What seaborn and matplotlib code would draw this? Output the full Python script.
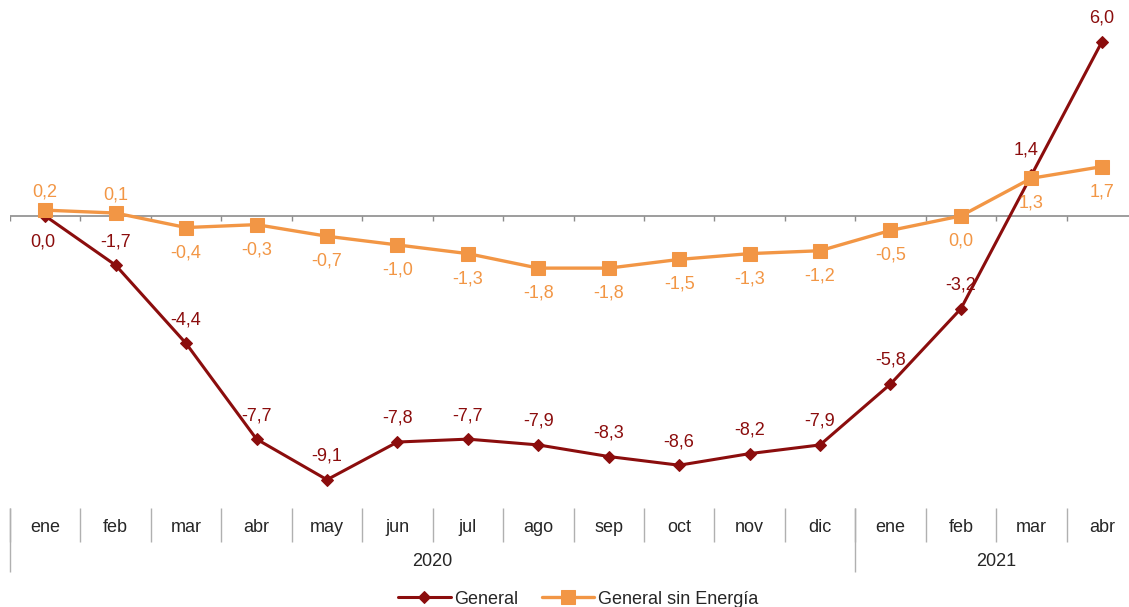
import numpy as np
import pandas as pd
import matplotlib
matplotlib.use('Agg')
import matplotlib.pyplot as plt
import matplotlib.transforms as mtransforms
import seaborn as sns; sns.set_style('white')

plt.rcParams['font.family'] = ['Liberation Sans', 'DejaVu Sans']

# Data
months = ['ene', 'feb', 'mar', 'abr', 'may', 'jun', 'jul', 'ago', 'sep', 'oct', 'nov', 'dic',
          'ene', 'feb', 'mar', 'abr']
years = ['2020', '2021']
year_span = [12, 4]
general = [0.0, -1.7, -4.4, -7.7, -9.1, -7.8, -7.7, -7.9, -8.3, -8.6, -8.2, -7.9, -5.8, -3.2, 1.4, 6.0]
sin_energia = [0.2, 0.1, -0.4, -0.3, -0.7, -1.0, -1.3, -1.8, -1.8, -1.5, -1.3, -1.2, -0.5, 0.0, 1.3, 1.7]

red = '#8B0D0D'
orange = '#F29645'
fs = 13

df = pd.DataFrame({'idx': np.arange(len(months)), 'general': general, 'sin': sin_energia})

W, H = 1129, 607
fig = plt.figure(figsize=(W / 100, H / 100), dpi=100)
ax = fig.add_axes([10 / W, (H - 500) / H, 1127 / W, 500 / H])

sns.lineplot(data=df, x='idx', y='general', ax=ax, color=red, lw=2.2, marker='D',
             markersize=6.5, markeredgecolor=red, label='General')
sns.lineplot(data=df, x='idx', y='sin', ax=ax, color=orange, lw=2.4, marker='s',
             markersize=10, markeredgecolor=orange, label='General sin Energía')

ax.set_xlim(-0.5, len(months) - 0.5)
ax.set_ylim(-9.8, 7.45)
for s in ax.spines.values():
    s.set_visible(False)
ax.set_yticks([])
ax.set_xlabel('')
ax.set_ylabel('')

# zero line with small ticks at category boundaries
ax.axhline(0, color='#8c8c8c', lw=1.2, zorder=1)
bounds = np.arange(len(months) + 1) - 0.5
ax.vlines(bounds, -0.17, 0, color='#8c8c8c', lw=1.0, zorder=1)

# data labels
def fmt(v):
    return f'{v:.1f}'.replace('.', ',')

for i, v in enumerate(general):
    if i == 0:
        off = (-2, -19)
    elif i == len(general) - 2:
        off = (-4, 18)
    else:
        off = (0, 17)
    ax.annotate(fmt(v), (i, v), textcoords='offset points', xytext=off,
                ha='center', va='center', color=red, fontsize=fs)
for i, v in enumerate(sin_energia):
    dy = 13 if i < 2 else -18
    ax.annotate(fmt(v), (i, v), textcoords='offset points', xytext=(0, dy),
                ha='center', va='center', color=orange, fontsize=fs)

# category axis
ax.set_xticks(range(len(months)))
ax.set_xticklabels(months, fontsize=fs)
ax.tick_params(axis='x', length=0, pad=14)

trans = mtransforms.blended_transform_factory(ax.transData, ax.transAxes)
year_starts = np.cumsum([0] + year_span[:-1])
ax.vlines(bounds, -0.016, -0.084, transform=trans, color='#b0b0b0', lw=1.0, clip_on=False)
ax.vlines(bounds[year_starts], -0.016, -0.144, transform=trans, color='#b0b0b0', lw=1.0,
          clip_on=False)
for y, st, n in zip(years, year_starts, year_span):
    ax.text(st + (n - 1) / 2, -0.122, y, transform=trans, ha='center', va='center', fontsize=fs)

ax.get_legend().remove()
h, l = ax.get_legend_handles_labels()
fig.legend(h, l, loc='center', bbox_to_anchor=(0.512, 0.013), ncol=2, frameon=False,
           fontsize=fs, handlelength=2.9, columnspacing=1.3, handletextpad=0.2)

fig.savefig('out.png', dpi=100)
